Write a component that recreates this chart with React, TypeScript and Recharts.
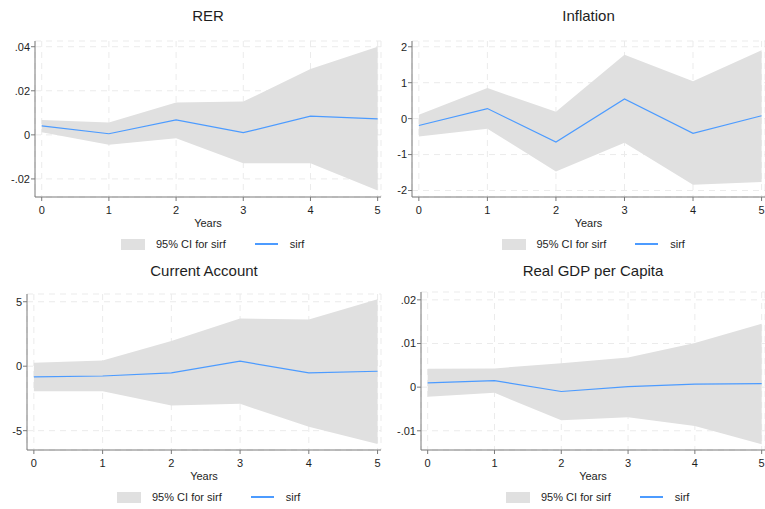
import React from 'react'
import { ComposedChart, Area, Line, XAxis, YAxis, CartesianGrid } from 'recharts'

const years = [0, 1, 2, 3, 4, 5]

const rerIrf = [0.0041, 0.0005, 0.0068, 0.001, 0.0085, 0.0073]
const rerUpper = [0.0068, 0.0056, 0.0147, 0.0151, 0.0299, 0.04]
const rerLower = [0.0012, -0.0045, -0.0015, -0.0129, -0.0129, -0.0253]
const rerTicks = [-0.02, 0, 0.02, 0.04]

const inflIrf = [-0.19, 0.28, -0.65, 0.55, -0.41, 0.08]
const inflUpper = [0.11, 0.85, 0.19, 1.78, 1.04, 1.9]
const inflLower = [-0.5, -0.28, -1.47, -0.67, -1.84, -1.76]
const inflTicks = [-2, -1, 0, 1, 2]

const caIrf = [-0.83, -0.76, -0.52, 0.39, -0.52, -0.39]
const caUpper = [0.26, 0.44, 1.95, 3.7, 3.62, 5.2]
const caLower = [-1.95, -1.95, -3.05, -2.92, -4.69, -6.04]
const caTicks = [-5, 0, 5]

const gdpIrf = [0.001, 0.0015, -0.001, 0.0001, 0.0007, 0.0008]
const gdpUpper = [0.0042, 0.0043, 0.0055, 0.0068, 0.0101, 0.0145]
const gdpLower = [-0.0022, -0.0013, -0.0076, -0.0069, -0.0089, -0.0131]
const gdpTicks = [-0.01, 0, 0.01, 0.02]

const FONT = '"Liberation Sans", Arial, Helvetica, sans-serif'
const CI_FILL = '#e0e0e0'
const LINE = '#4c9bff'
const AXIS = '#7a7a7a'
const GRID = '#ebebeb'
const TEXT = '#1e1e1e'

const stataFmt = (v: number) => {
  if (v === 0) return '0'
  return String(v).replace(/^(-?)0\./, '$1.')
}

interface PanelProps {
  title: string
  left: number
  top: number
  width: number
  axisX: number
  plotRight: number
  plotTop: number
  plotBottom: number
  legendTop: number
  irf: number[]
  upper: number[]
  lower: number[]
  ticks: number[]
  domain: [number, number]
}

function Panel(p: PanelProps) {
  const data = years.map((y, i) => ({
    year: y,
    irf: p.irf[i],
    ci: [p.lower[i], p.upper[i]]
  }))
  const xAxisH = 31
  const chartH = p.plotBottom + xAxisH + 2
  const cx = (p.axisX + p.plotRight) / 2
  return (
    <div style={{ position: 'absolute', left: p.left, top: p.top, width: p.width, height: 255 }}>
      <div
        style={{
          position: 'absolute',
          left: 0,
          width: p.width,
          top: 7,
          textAlign: 'center',
          paddingLeft: cx * 2 - p.width,
          boxSizing: 'border-box',
          fontSize: 15,
          color: TEXT
        }}
      >
        {p.title}
      </div>
      <div style={{ position: 'absolute', left: 0, top: 0 }}>
        <ComposedChart
          width={p.width}
          height={chartH}
          data={data}
          margin={{ top: p.plotTop, right: p.width - p.plotRight, bottom: 2, left: 0 }}
        >
          <CartesianGrid stroke={GRID} strokeDasharray="6 5" vertical horizontal />
          <XAxis
            dataKey="year"
            type="number"
            domain={[-0.1, 5.05]}
            ticks={years}
            allowDataOverflow
            height={xAxisH}
            stroke={AXIS}
            tickSize={4}
            tickMargin={5}
            tick={{ fill: TEXT, fontSize: 11 }}
            label={{ value: 'Years', position: 'insideBottom', offset: 1, fill: TEXT, fontSize: 11 }}
          />
          <YAxis
            type="number"
            domain={p.domain}
            ticks={p.ticks}
            allowDataOverflow
            width={p.axisX}
            stroke={AXIS}
            tickSize={4}
            tickMargin={1}
            tickFormatter={stataFmt}
            tick={{ fill: TEXT, fontSize: 11 }}
          />
          <Area
            dataKey="ci"
            type="linear"
            fill={CI_FILL}
            fillOpacity={1}
            stroke="none"
            isAnimationActive={false}
            dot={false}
            activeDot={false}
          />
          <Line
            dataKey="irf"
            type="linear"
            stroke={LINE}
            strokeWidth={1.2}
            dot={false}
            activeDot={false}
            isAnimationActive={false}
          />
        </ComposedChart>
      </div>
      <div
        style={{
          position: 'absolute',
          top: p.legendTop,
          left: cx - 87,
          display: 'flex',
          alignItems: 'center',
          fontSize: 11,
          lineHeight: '11px',
          color: TEXT
        }}
      >
        <div style={{ width: 24, height: 11, background: CI_FILL }} />
        <span style={{ marginLeft: 11 }}>95% CI for sirf</span>
        <div style={{ width: 23, height: 1.5, background: LINE, marginLeft: 29 }} />
        <span style={{ marginLeft: 12 }}>sirf</span>
      </div>
    </div>
  )
}

export default function App() {
  return (
    <div style={{ position: 'absolute', left: 0, top: 0, width: 765, height: 509, background: '#fff', fontFamily: FONT }}>
      <Panel
        title="RER"
        left={0}
        top={0}
        width={385}
        axisX={35}
        plotRight={381}
        plotTop={41}
        plotBottom={197}
        legendTop={238.5}
        irf={rerIrf}
        upper={rerUpper}
        lower={rerLower}
        ticks={rerTicks}
        domain={[-0.0282, 0.0426]}
      />
      <Panel
        title="Inflation"
        left={385}
        top={0}
        width={380}
        axisX={27}
        plotRight={380}
        plotTop={41}
        plotBottom={197}
        legendTop={238.5}
        irf={inflIrf}
        upper={inflUpper}
        lower={inflLower}
        ticks={inflTicks}
        domain={[-2.18, 2.16]}
      />
      <Panel
        title="Current Account"
        left={0}
        top={255}
        width={385}
        axisX={27}
        plotRight={381}
        plotTop={39}
        plotBottom={195}
        legendTop={236.5}
        irf={caIrf}
        upper={caUpper}
        lower={caLower}
        ticks={caTicks}
        domain={[-6.5, 5.6]}
      />
      <Panel
        title="Real GDP per Capita"
        left={385}
        top={255}
        width={380}
        axisX={36}
        plotRight={380}
        plotTop={37}
        plotBottom={195}
        legendTop={236.5}
        irf={gdpIrf}
        upper={gdpUpper}
        lower={gdpLower}
        ticks={gdpTicks}
        domain={[-0.0144, 0.0218]}
      />
    </div>
  )
}
